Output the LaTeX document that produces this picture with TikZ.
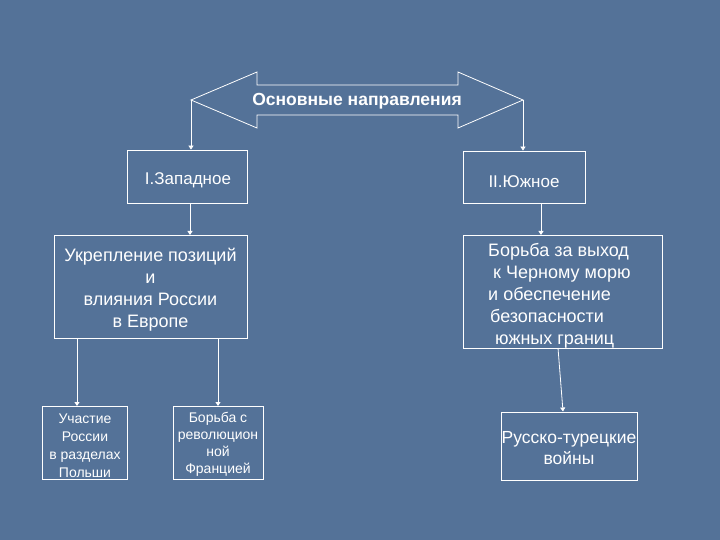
\documentclass[tikz,border=0pt]{standalone}
\usepackage{fontspec}
\setmainfont{Liberation Sans}
\usetikzlibrary{arrows.meta}
\definecolor{bgblue}{RGB}{84,114,152}
\tikzset{
  box/.style={draw=white, line width=0.8pt, text=white, align=center, inner sep=2pt},
  txt/.style={text=white, inner sep=0pt},
  conn/.style={draw=white, line width=0.8pt, -{Triangle[width=5pt,length=4pt]}},
}
\begin{document}
\begin{tikzpicture}[x=1pt,y=-1pt]
\fill[bgblue] (0,0) rectangle (720,540);
\useasboundingbox (0,0) rectangle (720,540);
% double arrow
\draw[white, line width=0.8pt, fill=bgblue] (191,100) -- (257,72) -- (257,85) -- (458,85) -- (458,72) -- (523,100) -- (458,128) -- (458,115) -- (257,115) -- (257,128) -- cycle;
\node[txt, font=\fontsize{17.5}{20}\selectfont\bfseries] (main) at (357,101) {Основные направления};
\coordinate (lt) at (191,100);
\coordinate (rt) at (523,100);
% level 1
\node[box, minimum width=120pt, minimum height=53pt] (west) at (187,176.5) {};
\node[txt, font=\fontsize{17}{20}\selectfont] (westtext) at (188,180.5) {I.Западное};
\node[box, minimum width=122pt, minimum height=52pt] (south) at (524,177) {};
\node[txt, font=\fontsize{17}{20}\selectfont] (southtext) at (524,181.5) {II.Южное};
\draw[conn] (lt) -- (lt |- west.north);
\draw[conn] (rt) -- (rt |- south.north);
% level 2
\node[box, minimum width=193pt, minimum height=103pt] (ukr) at (150.5,286.5) {};
\node[txt, align=center, font=\fontsize{18}{22}\selectfont] (ukrtext) at (150.5,289.5) {Укрепление позиций\\и\\влияния России\\в Европе};
\node[box, minimum width=199pt, minimum height=113pt] (bor) at (562.5,291.5) {};
\node[txt, anchor=west, align=left, font=\fontsize{18}{22}\selectfont] (bortext) at (488,296) {Борьба за выход\\\hspace*{5pt}к Черному морю\\и обеспечение\\\hspace*{2pt}безопасности\\\hspace*{7pt}южных границ};
\draw[conn] (190,203) -- (190,235);
\draw[conn] (541,203) -- (541,235);
% level 3
\node[box, minimum width=85pt, minimum height=73pt] (pol) at (85,442.5) {};
\node[txt, align=center, font=\fontsize{14}{18}\selectfont] (poltext) at (85,446) {Участие\\России\\в разделах\\Польши};
\node[box, minimum width=90pt, minimum height=73pt] (fra) at (218,442.5) {};
\node[txt, align=center, font=\fontsize{14}{17}\selectfont] (fratext) at (218,444) {Борьба с\\революцион\\ной\\Францией};
\node[box, minimum width=136pt, minimum height=68pt] (tur) at (569,446) {};
\node[txt, align=center, font=\fontsize{17.5}{21}\selectfont] (turtext) at (569,448.5) {Русско-турецкие\\войны};
\draw[conn] (77,338) -- (77,406);
\draw[conn] (218,338) -- (218,406);
\draw[conn] (558,348) -- (563,411.5);
\end{tikzpicture}
\end{document}
